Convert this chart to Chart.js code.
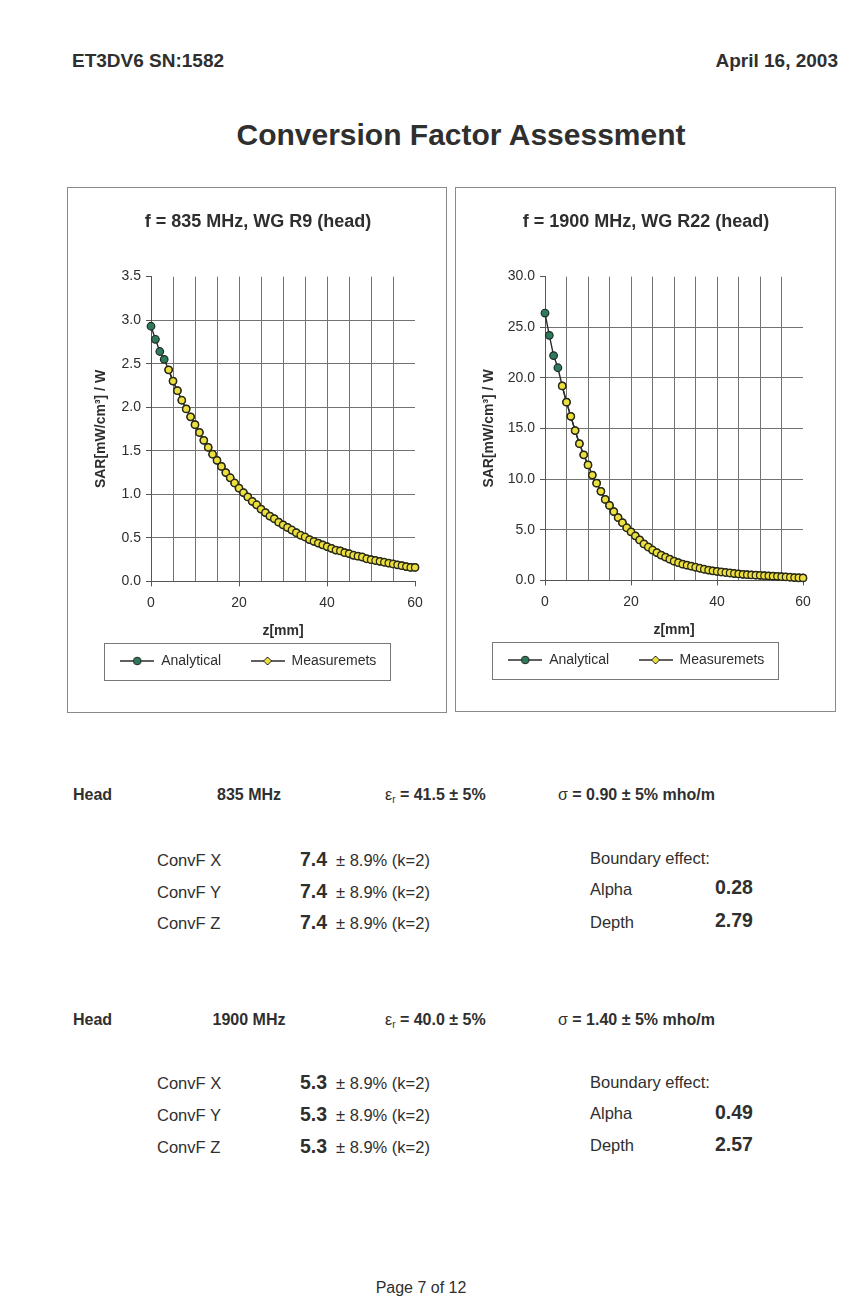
<!DOCTYPE html>
<html>
<head>
<meta charset="utf-8">
<script src="https://cdn.jsdelivr.net/npm/chart.js@4.4.0/dist/chart.umd.min.js"></script>
<style>
body { margin: 0; background: #fff; font-family: "Liberation Sans", Arial, sans-serif; color: #2f2f2f; }
#page { position: relative; width: 862px; height: 1308px; overflow: hidden; background: #fff; }
.t { position: absolute; white-space: nowrap; line-height: 1; }
.b { font-weight: bold; }
.box { position: absolute; border: 1px solid #8a8a8a; background: #fff; }
.box canvas { position: absolute; left: 0; top: 0; }
.sub { font-size: 10px; vertical-align: -3px; font-weight: normal; }
.greek { font-weight: normal; }
.n { font-size: 16.5px; }
.h { font-size: 16px; font-weight: bold; }
.v { font-size: 19.5px; font-weight: bold; }
</style>
</head>
<body>
<div id="page">

  <div class="t b" style="left:72px; top:51px; font-size:19px;">ET3DV6 SN:1582</div>
  <div class="t b" style="right:24px; top:51px; font-size:19px;">April 16, 2003</div>
  <div class="t b" style="left:0; width:922px; text-align:center; top:120px; font-size:30px;">Conversion Factor Assessment</div>

  <div class="box" style="left:67px; top:187px; width:378px; height:524px;">
    <canvas id="chart835" width="378" height="524"></canvas>
  </div>
  <div class="box" style="left:455px; top:187px; width:379px; height:523px;">
    <canvas id="chart1900" width="379" height="523"></canvas>
  </div>

  <!-- bloque 835 MHz -->
  <div class="t h" style="left:73px; top:787px;">Head</div>
  <div class="t h" style="left:199px; width:100px; text-align:center; top:787px;">835 MHz</div>
  <div class="t h" style="left:385px; top:787px;"><span class="greek">ε</span><span class="sub">r</span> = 41.5 ± 5%</div>
  <div class="t h" style="left:558px; top:787px;"><span class="greek">σ</span> = 0.90 ± 5% mho/m</div>

  <div class="t n" style="left:157px; top:852px;">ConvF X</div>
  <div class="t n" style="left:157px; top:884px;">ConvF Y</div>
  <div class="t n" style="left:157px; top:915px;">ConvF Z</div>
  <div class="t v" style="left:300px; top:850px;">7.4</div>
  <div class="t v" style="left:300px; top:882px;">7.4</div>
  <div class="t v" style="left:300px; top:913px;">7.4</div>
  <div class="t n" style="left:336px; top:852px;">± 8.9% (k=2)</div>
  <div class="t n" style="left:336px; top:884px;">± 8.9% (k=2)</div>
  <div class="t n" style="left:336px; top:915px;">± 8.9% (k=2)</div>
  <div class="t n" style="left:590px; top:850px;">Boundary effect:</div>
  <div class="t n" style="left:590px; top:881px;">Alpha</div>
  <div class="t n" style="left:590px; top:914px;">Depth</div>
  <div class="t v" style="left:715px; top:878px;">0.28</div>
  <div class="t v" style="left:715px; top:911px;">2.79</div>

  <!-- bloque 1900 MHz -->
  <div class="t h" style="left:73px; top:1012px;">Head</div>
  <div class="t h" style="left:199px; width:100px; text-align:center; top:1012px;">1900 MHz</div>
  <div class="t h" style="left:385px; top:1012px;"><span class="greek">ε</span><span class="sub">r</span> = 40.0 ± 5%</div>
  <div class="t h" style="left:558px; top:1012px;"><span class="greek">σ</span> = 1.40 ± 5% mho/m</div>

  <div class="t n" style="left:157px; top:1075px;">ConvF X</div>
  <div class="t n" style="left:157px; top:1107px;">ConvF Y</div>
  <div class="t n" style="left:157px; top:1139px;">ConvF Z</div>
  <div class="t v" style="left:300px; top:1073px;">5.3</div>
  <div class="t v" style="left:300px; top:1105px;">5.3</div>
  <div class="t v" style="left:300px; top:1137px;">5.3</div>
  <div class="t n" style="left:336px; top:1075px;">± 8.9% (k=2)</div>
  <div class="t n" style="left:336px; top:1107px;">± 8.9% (k=2)</div>
  <div class="t n" style="left:336px; top:1139px;">± 8.9% (k=2)</div>
  <div class="t n" style="left:590px; top:1074px;">Boundary effect:</div>
  <div class="t n" style="left:590px; top:1105px;">Alpha</div>
  <div class="t n" style="left:590px; top:1137px;">Depth</div>
  <div class="t v" style="left:715px; top:1103px;">0.49</div>
  <div class="t v" style="left:715px; top:1135px;">2.57</div>

  <div class="t" style="left:0; width:842px; text-align:center; top:1280px; font-size:16px;">Page 7 of 12</div>
</div>

<script>
// ========================================
// DATOS
// ========================================
const depthMm = [0, 1, 2, 3, 4, 5, 6, 7, 8, 9, 10, 11, 12, 13, 14, 15, 16, 17, 18, 19, 20,
    21, 22, 23, 24, 25, 26, 27, 28, 29, 30, 31, 32, 33, 34, 35, 36, 37, 38, 39, 40,
    41, 42, 43, 44, 45, 46, 47, 48, 49, 50, 51, 52, 53, 54, 55, 56, 57, 58, 59, 60];

const sar835Analytical = [2.93, 2.78, 2.64, 2.55, 2.43, 2.30, 2.19, 2.08, 1.98, 1.89, 1.80,
    1.71, 1.62, 1.54, 1.46, 1.39, 1.32, 1.25, 1.19, 1.13, 1.07,
    1.02, 0.97, 0.92, 0.88, 0.83, 0.79, 0.75, 0.72, 0.68, 0.65,
    0.62, 0.59, 0.56, 0.53, 0.51, 0.48, 0.46, 0.44, 0.42, 0.40,
    0.38, 0.36, 0.35, 0.33, 0.32, 0.30, 0.29, 0.28, 0.26, 0.25,
    0.24, 0.23, 0.22, 0.21, 0.20, 0.19, 0.18, 0.17, 0.16, 0.16];

const sar835Measured = [null, null, null, null, 2.43, 2.30, 2.19, 2.08, 1.98, 1.89, 1.80,
    1.71, 1.62, 1.54, 1.46, 1.39, 1.32, 1.25, 1.19, 1.13, 1.07,
    1.02, 0.97, 0.92, 0.88, 0.83, 0.79, 0.75, 0.72, 0.68, 0.65,
    0.62, 0.59, 0.56, 0.53, 0.51, 0.48, 0.46, 0.44, 0.42, 0.40,
    0.38, 0.36, 0.35, 0.33, 0.32, 0.30, 0.29, 0.28, 0.26, 0.25,
    0.24, 0.23, 0.22, 0.21, 0.20, 0.19, 0.18, 0.17, 0.16, 0.16];

const sar1900Analytical = [26.4, 24.2, 22.2, 21.0, 19.2, 17.6, 16.2, 14.8, 13.5, 12.4, 11.4,
    10.4, 9.6, 8.8, 8.0, 7.4, 6.8, 6.2, 5.7, 5.2, 4.8,
    4.4, 4.0, 3.6, 3.3, 3.0, 2.75, 2.5, 2.3, 2.1, 1.9,
    1.75, 1.6, 1.5, 1.4, 1.3, 1.2, 1.1, 1.02, 0.95, 0.89,
    0.83, 0.78, 0.73, 0.68, 0.64, 0.60, 0.57, 0.54, 0.52, 0.50,
    0.47, 0.45, 0.42, 0.40, 0.37, 0.34, 0.31, 0.28, 0.26, 0.24];

const sar1900Measured = [null, null, null, null, 19.2, 17.6, 16.2, 14.8, 13.5, 12.4, 11.4,
    10.4, 9.6, 8.8, 8.0, 7.4, 6.8, 6.2, 5.7, 5.2, 4.8,
    4.4, 4.0, 3.6, 3.3, 3.0, 2.75, 2.5, 2.3, 2.1, 1.9,
    1.75, 1.6, 1.5, 1.4, 1.3, 1.2, 1.1, 1.02, 0.95, 0.89,
    0.83, 0.78, 0.73, 0.68, 0.64, 0.60, 0.57, 0.54, 0.52, 0.50,
    0.47, 0.45, 0.42, 0.40, 0.37, 0.34, 0.31, 0.28, 0.26, 0.24];

const seriesLabels = ['Analytical', 'Measuremets'];
const xTickLabels = [0, 20, 40, 60];

// ========================================
// ESTILOS
// ========================================
const fontFamily = '"Liberation Sans", Arial, sans-serif';
const textColor = '#2e2e2e';
const gridColor = '#737373';
const axisColor = '#555';
const lineColor = '#2b2b2b';
const greenFill = '#2e7b5b';
const yellowFill = '#ebe03f';
const legendGap = '     ';   // espacio extra entre las entradas de la leyenda

function toPoints(values) {
    const pts = [];
    values.forEach((v, i) => {
        if (v !== null) pts.push({ x: depthMm[i], y: v });
    });
    return pts;
}

// icono de leyenda: línea con marcador en el centro
function legendIcon(fill, diamond) {
    const c = document.createElement('canvas');
    c.width = 34;
    c.height = 12;
    const g = c.getContext('2d');
    g.strokeStyle = lineColor;
    g.lineWidth = 1.4;
    g.beginPath();
    g.moveTo(0, 6);
    g.lineTo(34, 6);
    g.stroke();
    g.fillStyle = fill;
    g.strokeStyle = '#222';
    g.lineWidth = 1;
    g.beginPath();
    if (diamond) {
        g.moveTo(17, 2); g.lineTo(21, 6); g.lineTo(17, 10); g.lineTo(13, 6); g.closePath();
    } else {
        g.arc(17, 6, 3.8, 0, Math.PI * 2);
    }
    g.fill();
    g.stroke();
    return c;
}

// borde alrededor de la leyenda (sin contar los espacios finales)
const legendBorder = {
    id: 'legendBorder',
    afterDraw(chart) {
        const legend = chart.legend;
        const boxes = legend && legend.legendHitBoxes;
        if (!boxes || !boxes.length) return;
        const ctx = chart.ctx;
        ctx.save();
        ctx.font = '14px ' + fontFamily;
        const trail = ctx.measureText(legendGap).width;
        const left = Math.min(...boxes.map(b => b.left)) - 16;
        const right = Math.max(...boxes.map(b => b.left + b.width)) - trail + 14;
        const top = Math.min(...boxes.map(b => b.top)) - 11;
        const bottom = Math.max(...boxes.map(b => b.top + b.height)) + 12;
        ctx.strokeStyle = '#777';
        ctx.lineWidth = 1;
        ctx.strokeRect(Math.round(left) + 0.5, Math.round(top) + 0.5, Math.round(right - left), Math.round(bottom - top));
        ctx.restore();
    }
};

// ========================================
// CREAR GRÁFICO
// ========================================
function buildChart(canvasId, title, analytical, measured, yMax, yStep, yAxisWidth, padLeft, padRight) {
    const ctx = document.getElementById(canvasId).getContext('2d');
    return new Chart(ctx, {
        type: 'line',
        data: {
            datasets: [{
                label: seriesLabels[0],
                data: toPoints(analytical),
                borderColor: lineColor,
                borderWidth: 1.4,
                backgroundColor: greenFill,
                pointBackgroundColor: greenFill,
                pointBorderColor: '#1f2a24',
                pointBorderWidth: 1.2,
                pointRadius: 3.8,
                tension: 0,
                clip: false,
                order: 1
            }, {
                label: seriesLabels[1],
                data: toPoints(measured),
                borderColor: lineColor,
                borderWidth: 1.4,
                backgroundColor: yellowFill,
                pointBackgroundColor: yellowFill,
                pointBorderColor: '#2a2814',
                pointBorderWidth: 1.2,
                pointRadius: 3.5,
                tension: 0,
                clip: false,
                order: 0
            }]
        },
        options: {
            responsive: false,
            animation: false,
            devicePixelRatio: 1,
            layout: { padding: { left: padLeft, right: padRight, top: 10, bottom: 34 } },
            plugins: {
                title: {
                    display: true,
                    text: title,
                    color: textColor,
                    font: { family: fontFamily, size: 18, weight: 'bold' },
                    padding: { top: 13, bottom: 44 }
                },
                legend: {
                    position: 'bottom',
                    labels: {
                        usePointStyle: true,
                        pointStyleWidth: 34,
                        color: textColor,
                        padding: 10,
                        font: { family: fontFamily, size: 14 },
                        sort: (a, b) => a.datasetIndex - b.datasetIndex,
                        generateLabels: chart => chart.data.datasets.map((ds, i) => ({
                            text: ds.label + legendGap,
                            pointStyle: i === 0 ? legendIcon(greenFill, false) : legendIcon(yellowFill, true),
                            fillStyle: ds.backgroundColor,
                            strokeStyle: ds.borderColor,
                            lineWidth: 0,
                            fontColor: textColor,
                            datasetIndex: i
                        }))
                    }
                },
                tooltip: { enabled: false }
            },
            scales: {
                x: {
                    type: 'linear',
                    min: 0,
                    max: 60,
                    ticks: {
                        stepSize: 5,
                        autoSkip: false,
                        maxRotation: 0,
                        padding: 8,
                        color: textColor,
                        font: { family: fontFamily, size: 14 },
                        callback: v => xTickLabels.includes(v) ? String(v) : ''
                    },
                    grid: {
                        color: c => (c.tick && (c.tick.value === 0 || c.tick.value === 60)) ? 'rgba(0,0,0,0)' : gridColor,
                        tickColor: c => (c.tick && xTickLabels.includes(c.tick.value)) ? axisColor : 'rgba(0,0,0,0)',
                        tickLength: 5,
                        lineWidth: 1
                    },
                    border: { color: axisColor, width: 1 },
                    title: {
                        display: true,
                        text: 'z[mm]',
                        color: textColor,
                        font: { family: fontFamily, size: 14, weight: 'bold' },
                        padding: { top: 4, bottom: 4 }
                    }
                },
                y: {
                    min: 0,
                    max: yMax,
                    afterFit: scale => { scale.width = yAxisWidth; },
                    ticks: {
                        stepSize: yStep,
                        padding: 5,
                        color: textColor,
                        font: { family: fontFamily, size: 14 },
                        callback: v => Number(v).toFixed(1)
                    },
                    grid: {
                        color: c => (c.tick && c.tick.value >= yMax) ? 'rgba(0,0,0,0)' : gridColor,
                        tickColor: axisColor,
                        tickLength: 5,
                        lineWidth: 1
                    },
                    border: { color: axisColor, width: 1 },
                    title: {
                        display: true,
                        text: 'SAR[mW/cm³] / W',
                        color: textColor,
                        font: { family: fontFamily, size: 14, weight: 'bold' },
                        padding: { top: -8, bottom: 0 }
                    }
                }
            }
        },
        plugins: [legendBorder]
    });
}

document.addEventListener('DOMContentLoaded', function() {
    buildChart('chart835', 'f = 835 MHz, WG R9 (head)', sar835Analytical, sar835Measured, 3.5, 0.5, 50, 33, 31);
    buildChart('chart1900', 'f = 1900 MHz, WG R22 (head)', sar1900Analytical, sar1900Measured, 30, 5, 56, 33, 32);
});
</script>
</body>
</html>
